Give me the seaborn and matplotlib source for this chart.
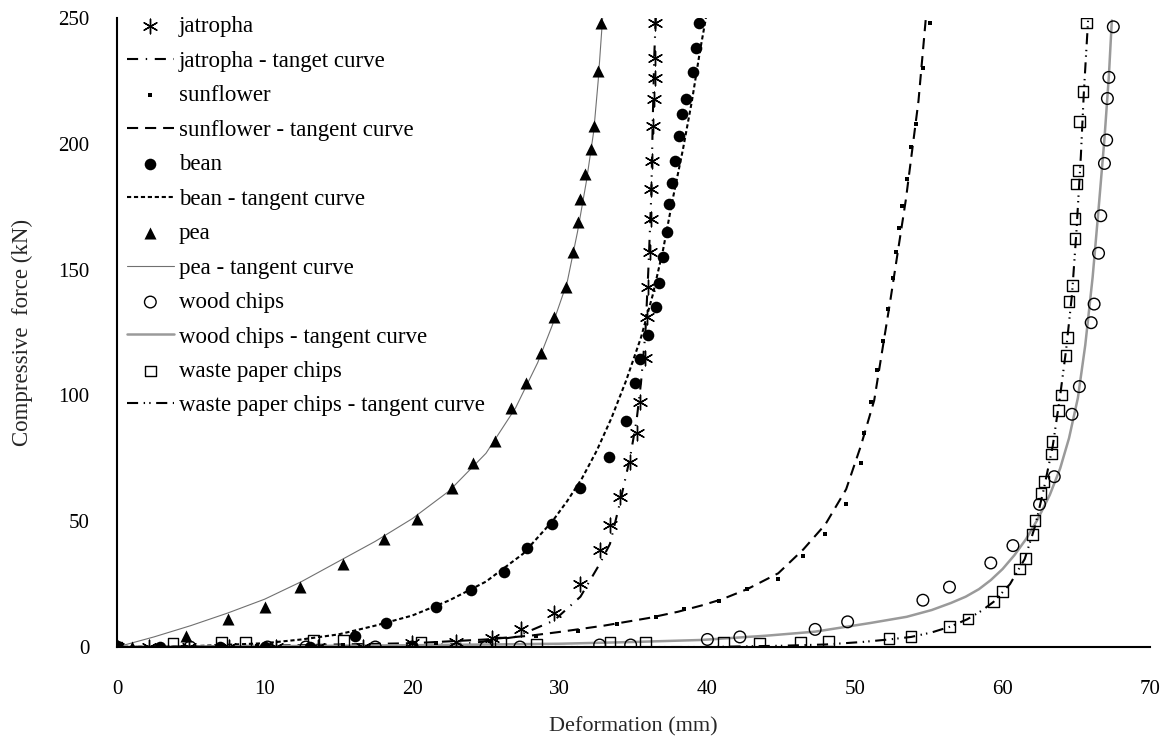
import matplotlib
matplotlib.use("Agg")
import matplotlib.pyplot as plt
import seaborn as sns
import numpy as np

# ---------------- data ----------------
jat_x = [0, 2.2, 4.9, 7.6, 10.8, 13.6, 16.7, 20.0, 23.0, 25.4, 27.4, 29.6, 31.4, 32.7, 33.4, 34.1,
         34.75, 35.2, 35.4, 35.75, 35.9, 36.0, 36.1, 36.2, 36.2, 36.25, 36.3, 36.4, 36.45, 36.45, 36.45]
jat_y = [0, 0, 0, 0, 0, 0, 0, 1.5, 2, 3.5, 7, 13.5, 25, 38.5, 48.5, 59.6,
         73.7, 85, 97.5, 115, 131, 143, 157, 170, 182, 193, 207, 218, 226, 234, 248]
jat_cx = [0, 20, 24, 27, 29.6, 31.4, 32.7, 33.4, 34.1, 34.75, 35.2, 35.5, 35.8, 36.0, 36.2, 36.3, 36.4, 36.5]
jat_cy = [0, 0.5, 1.5, 4, 10.5, 20, 33, 41, 58, 75, 90, 105, 125, 150, 180, 210, 235, 250]

sun_x = [0, 4.5, 9.5, 15.3, 21.6, 25.3, 28.4, 31.2, 33.9, 36.5, 38.4, 40.8, 42.7, 44.8, 46.5, 48.0,
         49.4, 50.4, 50.6, 51.1, 51.5, 51.9, 52.25, 52.55, 52.8, 53.0, 53.2, 53.5, 53.8, 54.1, 54.6, 55.1]
sun_y = [0, 0, 0.3, 0.8, 1.5, 2.5, 4.5, 6.5, 9, 12, 15.3, 18.3, 23, 27, 36, 45,
         57, 73, 85, 97.5, 110, 121.6, 134.4, 146.5, 157, 166.6, 175.4, 186, 198.6, 207.7, 230, 248]
sun_cx = [0, 10, 20, 25, 28, 30, 33, 36, 38, 39.6, 41, 42.7, 44.8, 46.5, 48, 49.4, 50.4, 51.3, 52.4, 53.45, 54.3, 54.8]
sun_cy = [0, 0.5, 1.5, 3, 4.5, 6, 8.5, 11.5, 14, 16.5, 19, 23, 29.3, 38.8, 48.8, 62.7, 80, 98, 138, 178, 217, 250]

bean_x = [0, 2.9, 7.0, 10.0, 13.1, 16.1, 18.25, 21.6, 23.95, 26.25, 27.8, 29.5, 31.4, 33.3, 34.5, 35.1,
          35.45, 35.95, 36.5, 36.7, 37.0, 37.25, 37.4, 37.6, 37.8, 38.05, 38.3, 38.55, 39.0, 39.25, 39.45]
bean_y = [0, 0, 0, 0, 0, 4.5, 9.5, 15.8, 22.7, 29.8, 39.2, 48.9, 63, 75.6, 89.7, 104.8,
          114.5, 124, 135, 144.8, 155, 164.8, 176, 184.5, 193, 203, 211.7, 218, 228.7, 238, 248]
bean_cx = [0, 5, 10, 12.5, 15, 17.5, 20, 22.5, 25, 27.5, 29.5, 30.5, 31.5, 32.5, 33.5, 34.5, 35.5,
           36.3, 37.0, 37.65, 38.35, 38.95, 39.5, 39.9]
bean_cy = [0, 0.3, 1.5, 3, 5, 8.5, 12.5, 18.5, 26, 37, 50, 58, 67, 78, 91, 106, 123,
           140, 158, 178, 198, 217, 237, 250]

pea_x = [0, 1.0, 4.7, 7.5, 10.0, 12.4, 15.3, 18.1, 20.3, 22.7, 24.1, 25.6, 26.7, 27.7, 28.7, 29.6,
         30.4, 30.9, 31.2, 31.4, 31.7, 32.1, 32.3, 32.6, 32.8]
pea_y = [0, 0, 4.4, 11, 16, 24, 33, 43, 51, 63, 73, 82, 95, 105, 117, 131,
         143, 157, 169, 178, 188, 198, 207, 229, 248]
pea_cx = [0, 2.5, 5, 7.5, 10, 12.5, 15, 17.5, 20, 22.5, 25, 27, 28.5, 29.5, 30.5, 31.2, 31.8, 32.3, 32.6, 32.9]
pea_cy = [0, 4, 8.5, 13.5, 19, 26, 34, 42, 51, 62, 77, 95, 113, 128, 145, 165, 185, 205, 225, 250]

wood_x = [0, 4.95, 10.2, 12.8, 17.5, 20, 25, 27.3, 32.7, 34.8, 40.0, 42.2, 47.3, 49.5, 54.6, 56.4,
          59.2, 60.7, 62.5, 63.5, 64.7, 65.2, 66.0, 66.2, 66.5, 66.65, 66.9, 67.05, 67.1, 67.2, 67.5]
wood_y = [0, 0, 0, 0, 0, 0, 0, 0, 0.8, 0.8, 3, 4, 7, 10, 18.6, 23.8,
          33.4, 40.3, 56.7, 67.7, 92.5, 103.5, 128.9, 136.3, 156.5, 171.4, 192.2, 201.5, 218, 226.4, 246.5]
wood_cx = [0, 10, 20, 30, 35, 39.6, 44, 47.3, 51, 53.5, 55.2, 56.5, 57.5, 58.4, 59.2, 60.0, 60.8,
           61.6, 62.4, 63.2, 63.9, 64.5, 65.1, 65.6, 66.1, 66.5, 66.9, 67.2, 67.4]
wood_cy = [0, 0.3, 0.7, 1.3, 2, 2.8, 4.5, 6.1, 9.5, 12, 14.7, 17.5, 20, 23, 26.6, 31, 36.5,
           43, 51, 60.5, 71, 83, 99, 120, 147, 174, 202, 227, 249]

paper_x = [0, 3.8, 7.1, 8.7, 13.3, 15.35, 20.6, 26.0, 28.4, 33.4, 35.8, 41.1, 43.55, 46.3, 48.2, 52.3,
           53.8, 56.4, 57.65, 59.4, 60.0, 61.15, 61.55, 62.05, 62.2, 62.6, 62.8, 63.3, 63.35, 63.8, 64.0,
           64.3, 64.4, 64.5, 64.75, 64.9, 64.9, 65.0, 65.1, 65.2, 65.45, 65.7]
paper_y = [0, 1.5, 1.7, 1.9, 2.5, 2.5, 1.9, 1.9, 1.2, 1.7, 1.9, 1.7, 1.5, 1.9, 2.4, 3.4,
           4.1, 8.3, 11.1, 18, 22, 31, 35.2, 44.8, 50.2, 61.1, 65.7, 76.7, 81.6, 93.9, 100.2,
           116, 123, 137.2, 143.6, 162.4, 170.4, 184, 189.3, 208.8, 220.7, 248]
paper_cx = [0, 40, 45, 48, 50.5, 52.3, 53.8, 55.2, 56.4, 57.6, 58.6, 59.4, 60.5, 61.5, 62.2, 62.8,
            63.4, 63.9, 64.3, 64.7, 65.0, 65.3, 65.5, 65.8]
paper_cy = [0, 0, 0.5, 1, 2, 3, 4, 5.8, 8, 11, 14.5, 18, 25, 35, 48, 63, 80, 100, 118, 140, 165,
            195, 220, 250]

x_ticks = [0, 10, 20, 30, 40, 50, 60, 70]
y_ticks = [0, 50, 100, 150, 200, 250]

# ---------------- style ----------------
sns.set_theme(style="white")
plt.rcParams['font.family'] = ['Liberation Serif', 'DejaVu Serif']
plt.rcParams['lines.scale_dashes'] = False

fig = plt.figure(figsize=(11.63, 7.38), dpi=100)
ax = fig.add_axes([0.1006, 0.1233, 0.8884, 0.8523])

# tangent curves
sns.lineplot(x=jat_cx, y=jat_cy, ax=ax, sort=False, estimator=None, color='black', lw=1.5,
             label='jatropha - tanget curve', zorder=2)
ax.lines[-1].set_dashes((8, 5.5, 1, 5.5))
sns.lineplot(x=sun_cx, y=sun_cy, ax=ax, sort=False, estimator=None, color='black', lw=1.5,
             label='sunflower - tangent curve', zorder=2)
ax.lines[-1].set_dashes((8, 5))
sns.lineplot(x=bean_cx, y=bean_cy, ax=ax, sort=False, estimator=None, color='black', lw=1.5,
             label='bean - tangent curve', zorder=2)
ax.lines[-1].set_dashes((3, 2))
sns.lineplot(x=pea_cx, y=pea_cy, ax=ax, sort=False, estimator=None, color='#707070', lw=0.8,
             label='pea - tangent curve', zorder=2)
sns.lineplot(x=wood_cx, y=wood_cy, ax=ax, sort=False, estimator=None, color='#9a9a9a', lw=1.8,
             label='wood chips - tangent curve', zorder=2)
sns.lineplot(x=paper_cx, y=paper_cy, ax=ax, sort=False, estimator=None, color='black', lw=1.5,
             label='waste paper chips - tangent curve', zorder=2)
ax.lines[-1].set_dashes((8, 4, 1, 3, 1, 4))

# data points
sns.scatterplot(x=jat_x, y=jat_y, ax=ax, marker=(6, 2, 0), s=110, color='black', linewidth=1.0,
                label='jatropha', zorder=3)
sns.scatterplot(x=sun_x, y=sun_y, ax=ax, marker='s', s=11, color='black', linewidth=0,
                label='sunflower', zorder=3)
sns.scatterplot(x=bean_x, y=bean_y, ax=ax, marker='o', s=70, color='black', linewidth=0,
                label='bean', zorder=3)
sns.scatterplot(x=pea_x, y=pea_y, ax=ax, marker='^', s=75, color='black', linewidth=0,
                label='pea', zorder=3)
sns.scatterplot(x=wood_x, y=wood_y, ax=ax, marker='o', s=70, facecolors='none', edgecolor='black',
                linewidth=1.0, label='wood chips', zorder=3)
sns.scatterplot(x=paper_x, y=paper_y, ax=ax, marker='s', s=60, facecolors='none', edgecolor='black',
                linewidth=1.0, label='waste paper chips', zorder=3)

ax.set_xlim(0, 70)
ax.set_ylim(0, 250)
ax.set_xticks(x_ticks)
ax.set_yticks(y_ticks)
for s in ['top', 'right']:
    ax.spines[s].set_visible(False)
for s in ['left', 'bottom']:
    ax.spines[s].set_color('black')
    ax.spines[s].set_linewidth(1.5)
ax.tick_params(axis='x', direction='in', length=6, width=1.3, pad=24, labelsize=15, colors='black')
ax.tick_params(axis='y', direction='out', length=6, width=1.3, pad=14, labelsize=15, colors='black')
ax.set_xlabel('Deformation (mm)', fontsize=16, labelpad=13)
ax.set_ylabel('Compressive  force (kN)', fontsize=16.5, labelpad=18)
ax.grid(False)

handles, labels = ax.get_legend_handles_labels()
hmap = dict(zip(labels, handles))
order = ['jatropha', 'jatropha - tanget curve', 'sunflower', 'sunflower - tangent curve',
         'bean', 'bean - tangent curve', 'pea', 'pea - tangent curve',
         'wood chips', 'wood chips - tangent curve', 'waste paper chips',
         'waste paper chips - tangent curve']
leg = ax.legend([hmap[k] for k in order], order, loc='upper left', bbox_to_anchor=(-0.006, 1.028),
                frameon=False, fontsize=16.5, handlelength=2.05, handletextpad=0.22,
                labelspacing=0.585, borderaxespad=0.3)
for t in leg.get_texts():
    t.set_color('black')

fig.savefig('out.png', dpi=100, facecolor='white')
